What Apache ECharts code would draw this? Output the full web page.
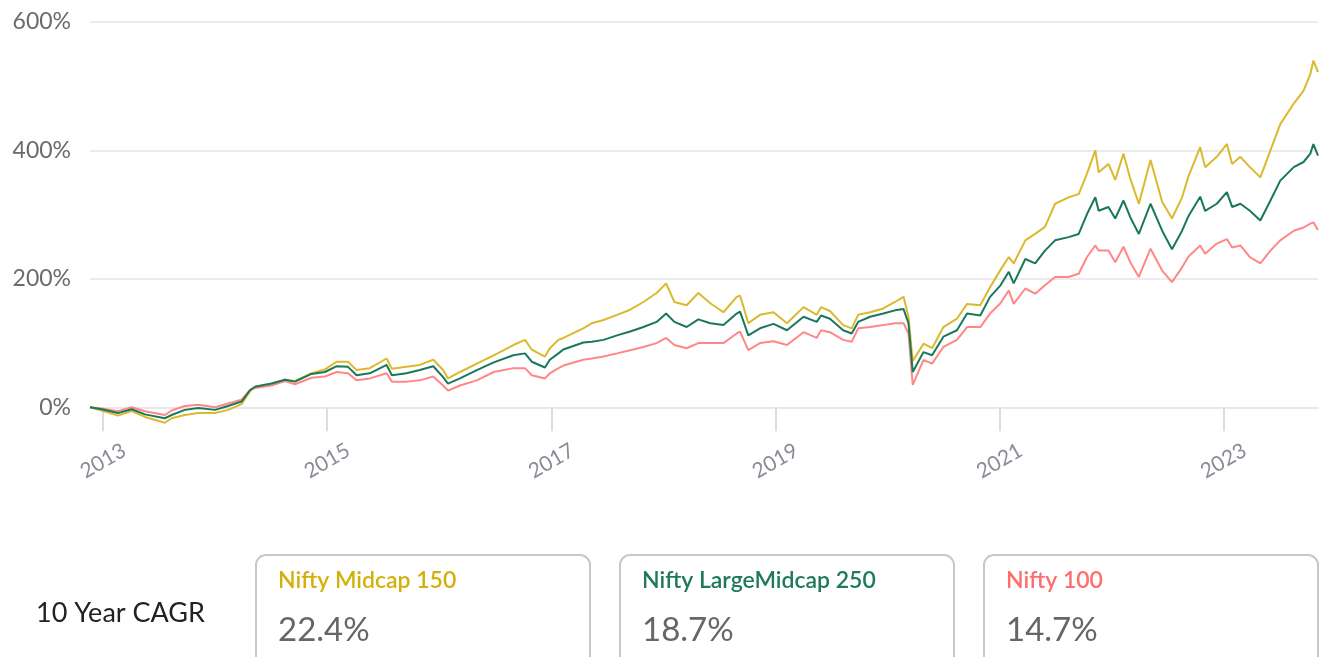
<!DOCTYPE html>
<html>
<head>
<meta charset="utf-8">
<script src="https://cdn.jsdelivr.net/npm/echarts@6/dist/echarts.min.js"></script>
<style>
  html, body { margin: 0; padding: 0; background: #fff; }
  #main { width: 1323px; height: 657px; }
</style>
</head>
<body>
<div id="main"></div>
<script>
// dates, with cumulative return (%) of each index
var dates = [
  '2012-11-19','2012-12-27','2013-02-18','2013-04-04','2013-05-17','2013-07-21','2013-08-12','2013-09-24',
  '2013-11-07','2014-01-01','2014-02-12','2014-03-28','2014-04-25','2014-05-11','2014-07-04','2014-08-17',
  '2014-09-18','2014-11-11','2014-12-25','2015-02-01','2015-03-10','2015-04-07','2015-05-20','2015-07-14',
  '2015-07-31','2015-09-17','2015-10-30','2015-12-13','2016-01-14','2016-01-30','2016-03-09','2016-05-03',
  '2016-06-27','2016-08-30','2016-10-07','2016-10-29','2016-12-11','2016-12-27','2017-01-24','2017-02-09',
  '2017-04-15','2017-05-13','2017-06-20','2017-08-03','2017-09-15','2017-10-28','2017-12-10','2018-01-10',
  '2018-02-06','2018-03-18','2018-04-25','2018-06-03','2018-07-16','2018-08-28','2018-09-08','2018-10-05',
  '2018-11-12','2018-12-26','2019-02-08','2019-04-03','2019-05-16','2019-05-30','2019-06-28','2019-08-10',
  '2019-09-07','2019-09-28','2019-11-06','2019-12-19','2020-01-26','2020-02-23','2020-03-10','2020-03-24',
  '2020-04-28','2020-05-26','2020-07-02','2020-08-15','2020-09-17','2020-10-30','2020-12-01','2021-01-04',
  '2021-01-31','2021-02-16','2021-03-26','2021-04-27','2021-05-29','2021-07-01','2021-08-14','2021-09-16',
  '2021-10-13','2021-11-09','2021-11-20','2021-12-22','2022-01-13','2022-02-09','2022-03-03','2022-03-31',
  '2022-05-08','2022-06-15','2022-07-17','2022-08-19','2022-09-09','2022-10-17','2022-11-02','2022-12-10',
  '2023-01-12','2023-01-29','2023-02-25','2023-03-28','2023-05-01','2023-06-03','2023-07-05','2023-08-18',
  '2023-09-19','2023-10-11','2023-10-21','2023-11-05'
];

var midcap150 = [
  0,-5,-13,-6,-15,-24,-17,-12, -9,-9,-4,5,25,32,37,43,
  41,53,59,71,71,58,61,76, 60,63,66,74,58,45,55,68,
  81,97,105,90,79,92,105,108, 123,131,136,144,152,164,178,193,
  164,159,178,162,148,172,174,131, 144,148,131,156,144,156,150,128,
  123,144,148,154,164,172,141,72, 99,92,125,138,161,159,187,214,
  234,224,260,270,281,317,327,332, 364,400,366,379,354,395,356,317,
  385,320,294,327,360,405,374,390, 410,379,390,374,358,400,441,473,
  493,519,540,522
];

var largeMidcap250 = [
  0,-3,-9,-3,-11,-17,-12,-4, -1,-4,2,9,27,32,37,43,
  40,52,55,64,63,50,53,66, 50,53,58,64,47,37,45,58,
  70,81,84,71,62,74,84,90, 101,102,105,112,118,125,133,146,
  133,125,137,131,128,146,149,112, 123,130,120,141,133,143,138,120,
  115,133,141,146,151,153,131,55, 86,81,110,120,146,143,172,190,
  211,193,231,224,244,260,265,270, 301,327,306,312,294,322,296,270,
  317,275,246,275,298,328,306,317, 335,312,317,306,291,322,353,374,
  382,395,410,392
];

var nifty100 = [
  0,-2,-6,0,-6,-12,-5,2, 4,0,6,12,27,30,34,41,
  36,46,48,55,53,42,45,53, 40,40,42,48,34,26,34,42,
  55,61,61,50,45,53,61,65, 74,76,79,84,89,94,100,108,
  97,92,100,100,100,115,118,89, 100,103,97,117,108,120,117,105,
  102,123,125,128,131,131,115,35, 74,68,94,105,125,125,146,162,
  182,161,185,177,190,203,203,208, 234,252,244,244,226,250,226,203,
  247,213,195,218,235,252,239,255, 262,249,252,234,224,244,260,275,
  280,286,288,276
];

var seriesNames = ['Nifty Midcap 150', 'Nifty LargeMidcap 250', 'Nifty 100'];
var cagrValues = ['22.4%', '18.7%', '14.7%'];
var yTicks = [0, 200, 400, 600];
var xTickYears = [2013, 2015, 2017, 2019, 2021, 2023];

var lineColors = ['#dab92d', '#1a785a', '#ff8787'];
var titleColors = ['#d4b00c', '#1f7a5c', '#ff6e6e'];
var FONT = 'Lato, "Noto Sans", sans-serif';

function ts(s) {
  var p = s.split('-');
  return Date.UTC(+p[0], +p[1] - 1, +p[2]);
}

function pairs(vals) {
  return dates.map(function (d, i) { return [ts(d), vals[i]]; });
}

var xTickValues = xTickYears.map(function (y) { return Date.UTC(y, 0, 1); });

// CAGR boxes under the chart
var graphics = [{
  type: 'text', left: 36, top: 600,
  style: { text: '10 Year CAGR', fill: '#222', font: '400 27px ' + FONT }
}];
seriesNames.forEach(function (name, i) {
  var x0 = 256 + i * 364;
  graphics.push({
    type: 'rect', shape: { x: x0, y: 555, width: 334, height: 130, r: 10 },
    style: { fill: '#fff', stroke: '#c8c8c8', lineWidth: 2 }
  });
  graphics.push({
    type: 'text', x: x0 + 22, y: 581,
    style: { text: name, fill: titleColors[i], font: '600 23px ' + FONT, verticalAlign: 'middle' }
  });
  graphics.push({
    type: 'text', x: x0 + 22, y: 630,
    style: { text: cagrValues[i], fill: '#666', font: '400 33px ' + FONT, verticalAlign: 'middle' }
  });
});

var myChart = echarts.init(document.getElementById('main'));

var option = {
  animation: false,
  textStyle: { fontFamily: FONT },
  grid: { left: 90, right: 5, top: 22, bottom: 224 },
  xAxis: {
    type: 'value',
    min: ts('2012-11-19'),
    max: ts('2023-11-05'),
    axisLine: { onZero: true, lineStyle: { color: '#e8e8ec', width: 2 } },
    axisTick: { show: true, length: 24, customValues: xTickValues, lineStyle: { color: '#dcdce2', width: 2 } },
    axisLabel: {
      customValues: xTickValues,
      formatter: function (v) { return new Date(v).getUTCFullYear(); },
      rotate: 30, align: 'center', verticalAlign: 'middle', margin: 28,
      color: '#8c8c99', fontSize: 21, fontFamily: FONT
    },
    splitLine: { show: false }
  },
  yAxis: {
    type: 'value',
    min: -40,
    max: 600,
    axisLine: { show: false },
    axisTick: { show: false, customValues: yTicks },
    axisLabel: {
      customValues: yTicks,
      formatter: '{value}%',
      margin: 19, color: '#6b6b6b', fontSize: 23, fontFamily: FONT
    },
    splitLine: { show: true, lineStyle: { color: '#ebebef', width: 2 } }
  },
  series: [
    { name: seriesNames[0], type: 'line', data: pairs(midcap150), showSymbol: false,
      lineStyle: { color: lineColors[0], width: 2 }, itemStyle: { color: lineColors[0] } },
    { name: seriesNames[2], type: 'line', data: pairs(nifty100), showSymbol: false,
      lineStyle: { color: lineColors[2], width: 2 }, itemStyle: { color: lineColors[2] } },
    { name: seriesNames[1], type: 'line', data: pairs(largeMidcap250), showSymbol: false,
      lineStyle: { color: lineColors[1], width: 2 }, itemStyle: { color: lineColors[1] } }
  ],
  graphic: graphics
};

myChart.setOption(option);
</script>
</body>
</html>
